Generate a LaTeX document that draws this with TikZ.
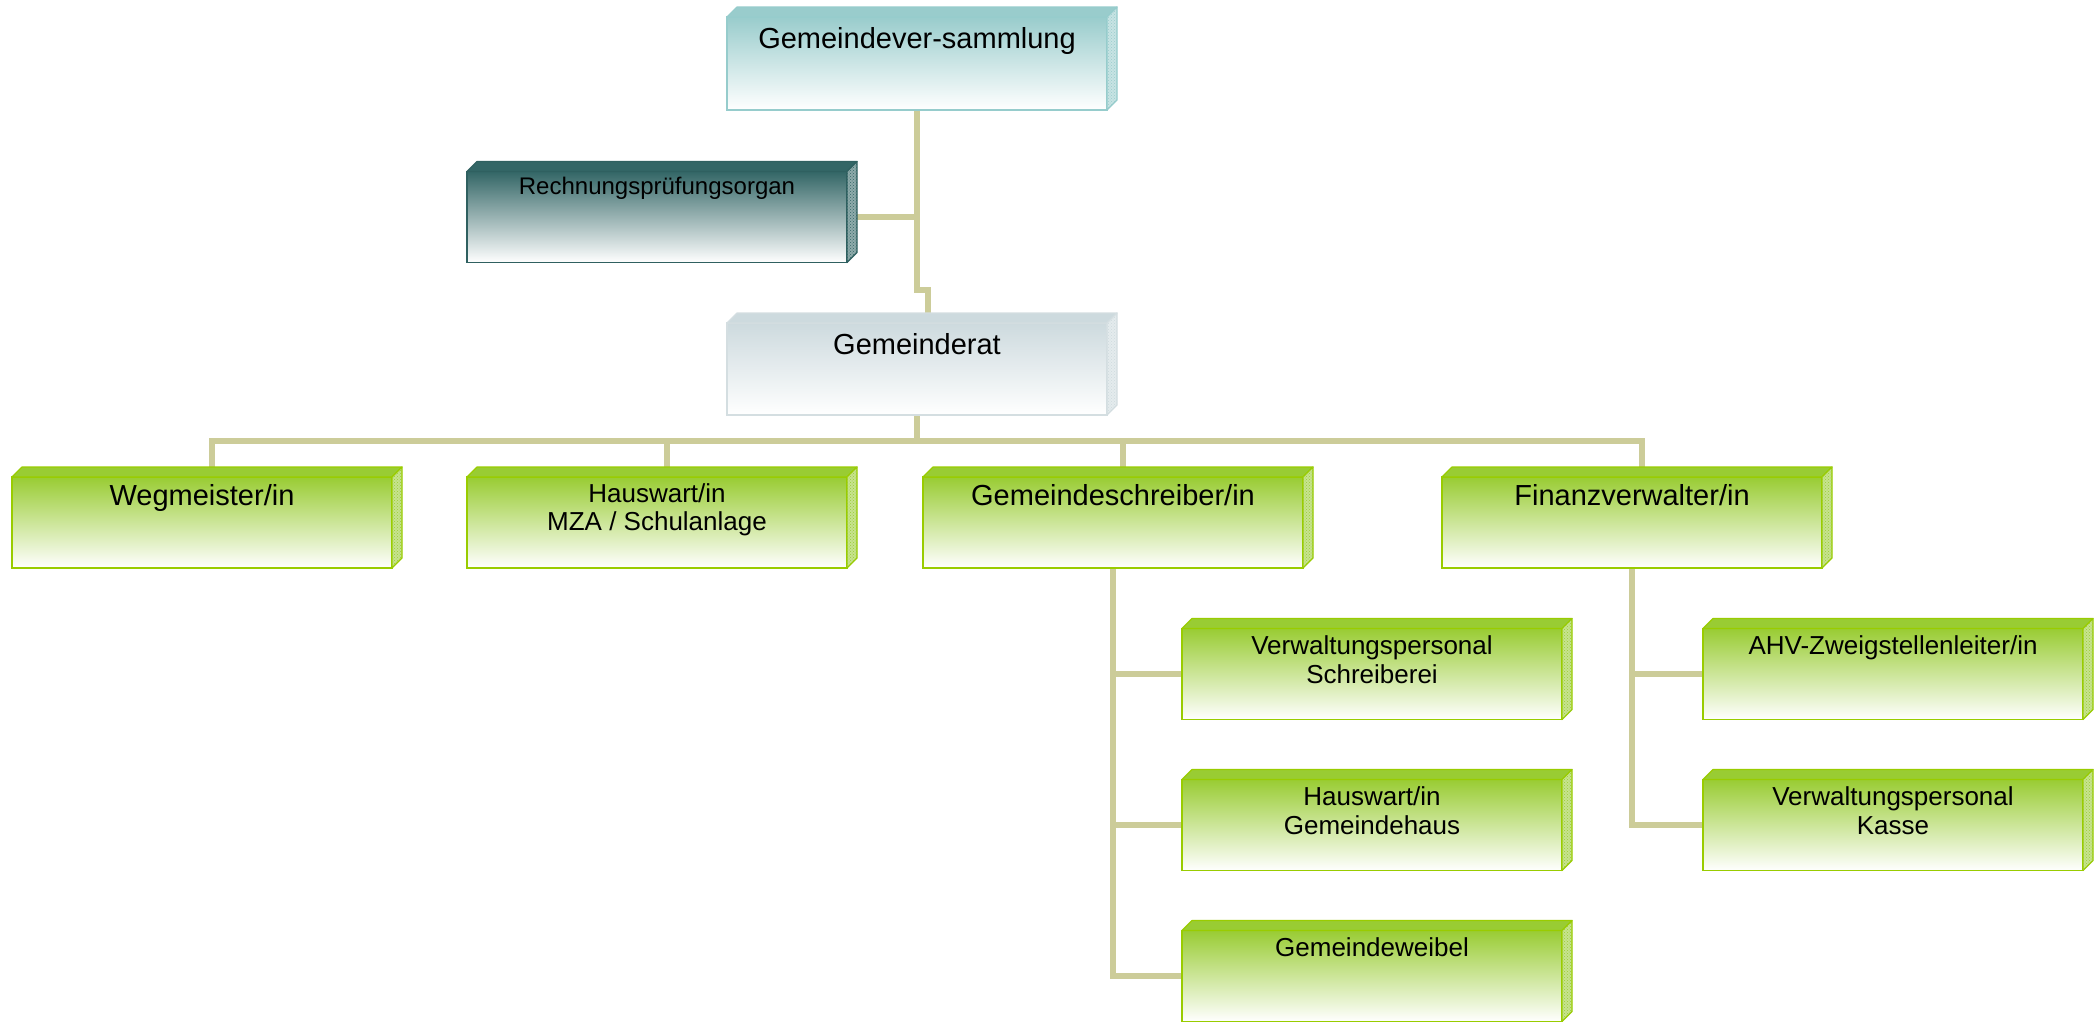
\documentclass[tikz,border=0pt]{standalone}
\usepackage{fontspec}
\setmainfont{Liberation Sans}
\usetikzlibrary{patterns,backgrounds}
\definecolor{gtop}{RGB}{153,204,51}
\definecolor{gbord}{RGB}{153,204,0}
\definecolor{ttop}{RGB}{153,204,204}
\definecolor{tbord}{RGB}{150,204,204}
\definecolor{dtop}{RGB}{51,102,102}
\definecolor{dbord}{RGB}{47,96,96}
\definecolor{stop}{RGB}{205,218,222}
\definecolor{sbord}{RGB}{212,222,225}
\definecolor{linkc}{RGB}{204,204,153}
\tikzset{
  x=1pt, y=-1pt,
  orgbox/.style={rectangle, inner sep=0pt, outer sep=0pt, minimum width=380pt, minimum height=91pt, line width=1.5pt},
  greenbox/.style={orgbox, draw=gbord, top color=gtop, middle color=gtop!30!white, bottom color=white},
  tealbox/.style={orgbox, draw=tbord, top color=ttop, middle color=ttop!35!white, bottom color=white},
  darkbox/.style={orgbox, draw=dbord, top color=dtop, middle color=dtop!35!white, bottom color=white},
  greybox/.style={orgbox, draw=sbord, top color=stop, middle color=stop!45!white, bottom color=white},
  bigl/.style={anchor=north, inner sep=0pt, align=center, font=\fontsize{29}{33}\selectfont},
  smalll/.style={anchor=north, inner sep=0pt, align=center, font=\fontsize{26}{28.5}\selectfont},
  tinyl/.style={anchor=north, inner sep=0pt, align=center, font=\fontsize{24}{28}\selectfont},
  link/.style={draw=linkc, line width=6.5pt},
}
\newcommand\boxfaces[3]{%
  \filldraw[fill=#2, draw=#3, line width=1.2pt, line join=round]
    (#1.north west) -- ++(10,-10) -- ([shift={(10,-10)}]#1.north east) -- (#1.north east) -- cycle;
  \filldraw[fill=#2!55!white, draw=#3, line width=1.2pt, line join=round,
    postaction={pattern=crosshatch dots, pattern color=#2}]
    (#1.north east) -- ++(10,-10) -- ([shift={(10,-10)}]#1.south east) -- (#1.south east) -- cycle;
}
\begin{document}
\begin{tikzpicture}
\useasboundingbox (0,0) rectangle (2095,1021);
% boxes
\node[tealbox, minimum height=93pt] (gv) at (917,63.5) {};
\node[darkbox] (rp) at (657,217) {};
\node[greybox, minimum height=92pt] (gr) at (917,369) {};
\node[greenbox] (wm) at (202,522.5) {};
\node[greenbox] (hm) at (657,522.5) {};
\node[greenbox] (gs) at (1113,522.5) {};
\node[greenbox] (fv) at (1632,522.5) {};
\node[greenbox] (vs) at (1372,674) {};
\node[greenbox] (hg) at (1372,825) {};
\node[greenbox] (gw) at (1372,976) {};
\node[greenbox] (ahv) at (1893,674) {};
\node[greenbox] (vk) at (1893,825) {};
% 3D faces
\boxfaces{gv}{ttop}{tbord}
\boxfaces{rp}{dtop}{dbord}
\boxfaces{gr}{stop}{sbord}
\foreach \n in {wm,hm,gs,fv,vs,hg,gw,ahv,vk}{\boxfaces{\n}{gtop}{gbord}}
% texts
\node[bigl] (gvt) at ([yshift=-1pt]gv.north) {\rule{0pt}{30pt}Gemeindever-sammlung};
\node[tinyl] (rpt) at (rp.north) {\rule{0pt}{23pt}Rechnungsprüfungsorgan};
\node[bigl] (grt) at (gr.north) {\rule{0pt}{31pt}Gemeinderat};
\node[bigl] (wmt) at (wm.north) {\rule{0pt}{28pt}Wegmeister/in};
\node[smalll] (hmt) at (hm.north) {\rule{0pt}{25pt}Hauswart/in\\MZA / Schulanlage};
\node[bigl] (gst) at (gs.north) {\rule{0pt}{28pt}Gemeindeschreiber/in};
\node[bigl] (fvt) at (fv.north) {\rule{0pt}{28pt}Finanzverwalter/in};
\node[smalll] (vst) at (vs.north) {\rule{0pt}{26pt}Verwaltungspersonal\\Schreiberei};
\node[smalll] (hgt) at (hg.north) {\rule{0pt}{26pt}Hauswart/in\\Gemeindehaus};
\node[smalll] (gwt) at (gw.north) {\rule{0pt}{26pt}Gemeindeweibel};
\node[smalll] (ahvt) at (ahv.north) {\rule{0pt}{26pt}AHV-Zweigstellenleiter/in};
\node[smalll] (vkt) at (vk.north) {\rule{0pt}{26pt}Verwaltungspersonal\\Kasse};
% connectors
\begin{scope}[on background layer]
\fill[white] (0,0) rectangle (2095,1021);
\coordinate (j1) at (928,290);
\coordinate (bar) at (917,441);
\draw[link] (gv.south) |- (j1) -- (j1 |- gr.north);
\draw[link] (rp.east) -- (rp.east -| gv.south);
\draw[link] (gr.south) -- (bar);
\foreach \n in {wm,hm,gs,fv}{\draw[link] ([xshift=10pt]\n.north) |- (bar);}
\draw[link] (gs.south) |- (gw.west);
\draw[link] (gs.south |- vs.west) -- (vs.west);
\draw[link] (gs.south |- hg.west) -- (hg.west);
\draw[link] (fv.south) |- (vk.west);
\draw[link] (fv.south |- ahv.west) -- (ahv.west);
\end{scope}
\end{tikzpicture}
\end{document}
